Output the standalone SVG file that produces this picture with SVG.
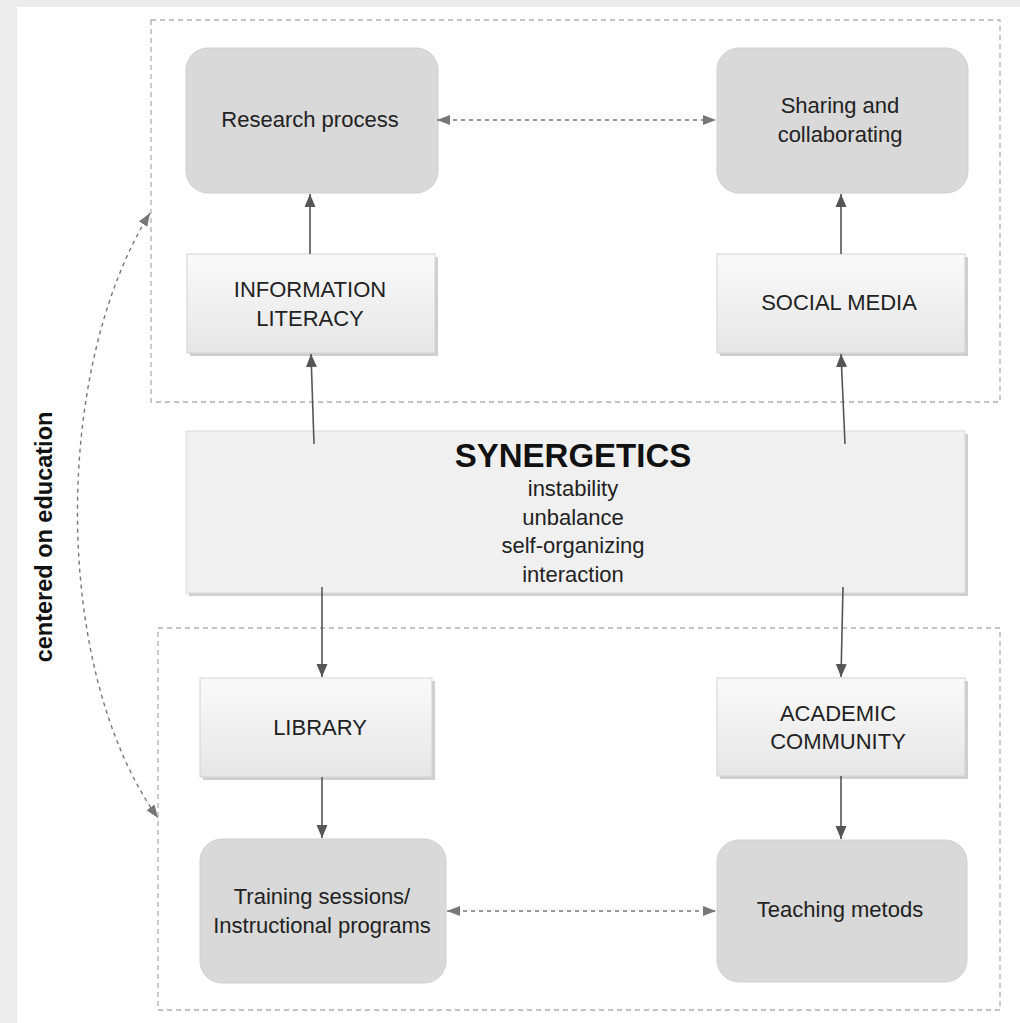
<svg xmlns="http://www.w3.org/2000/svg" width="1020" height="1023" viewBox="0 0 1020 1023">
  <defs>
    <linearGradient id="gSq" x1="0" y1="0" x2="0" y2="1">
      <stop offset="0" stop-color="#fafafa"/>
      <stop offset="1" stop-color="#e6e6e6"/>
    </linearGradient>
    <marker id="ah" markerUnits="userSpaceOnUse" markerWidth="14" markerHeight="12" refX="13" refY="6" orient="auto">
      <path d="M0,0.5 L13,6 L0,11.5 z" fill="#555"/>
    </marker>
    <marker id="ahd" markerUnits="userSpaceOnUse" markerWidth="14" markerHeight="12" refX="13" refY="6" orient="auto-start-reverse">
      <path d="M0,1 L13,6 L0,11 z" fill="#777"/>
    </marker>
    <style>
      .frame { fill: none; stroke: #b0b0b0; stroke-width: 1.3; stroke-dasharray: 5 4; }
      .round { fill: #d9d9d9; stroke: #cfcfcf; stroke-width: 1; }
      .sq { fill: url(#gSq); stroke: #d2d2d2; stroke-width: 1; }
      .shadow { fill: #cfcfcf; }
      .syn { fill: #f0f0f0; stroke: #dadada; stroke-width: 1; }
      .t { font-family: "Liberation Sans", Arial, sans-serif; font-size: 22px; fill: #222; text-anchor: middle; }
      .tb { font-family: "Liberation Sans", Arial, sans-serif; font-weight: bold; fill: #111; text-anchor: middle; }
      .solid { fill: none; stroke: #555; stroke-width: 1.6; marker-end: url(#ah); }
      .dash { fill: none; stroke: #777; stroke-width: 1.4; stroke-dasharray: 4 4; marker-start: url(#ahd); marker-end: url(#ahd); }
    </style>
  </defs>

  <!-- background frame -->
  <rect x="0" y="0" width="1020" height="1023" fill="#ececec"/>
  <rect x="17" y="7" width="1003" height="1016" fill="#ffffff"/>

  <!-- dashed grouping frames -->
  <g id="frames">
    <rect class="frame" x="151" y="20" width="849" height="382"/>
    <rect class="frame" x="158" y="628" width="842" height="382"/>
  </g>

  <g id="research">
    <rect class="round" x="186" y="48" width="252" height="145" rx="22"/>
    <text class="t" x="310" y="127">Research process</text>
  </g>
  <g id="sharing">
    <rect class="round" x="717" y="48" width="251" height="145" rx="22"/>
    <text class="t" x="840" y="113">Sharing and</text>
    <text class="t" x="840" y="142">collaborating</text>
  </g>
  <g id="infolit">
    <rect class="shadow" x="190" y="257" width="248" height="99"/>
    <rect class="sq" x="187" y="254" width="248" height="99"/>
    <text class="t" x="310" y="297">INFORMATION</text>
    <text class="t" x="310" y="326">LITERACY</text>
  </g>
  <g id="socialmedia">
    <rect class="shadow" x="720" y="257" width="248" height="99"/>
    <rect class="sq" x="717" y="254" width="248" height="99"/>
    <text class="t" x="839" y="310">SOCIAL MEDIA</text>
  </g>
  <g id="synergetics">
    <rect class="shadow" x="189" y="434" width="779" height="162"/>
    <rect class="syn" x="186" y="431" width="779" height="162"/>
    <text class="tb" x="573" y="467" font-size="33">SYNERGETICS</text>
    <text class="t" x="573" y="496">instability</text>
    <text class="t" x="573" y="525">unbalance</text>
    <text class="t" x="573" y="553">self-organizing</text>
    <text class="t" x="573" y="582">interaction</text>
  </g>
  <g id="library">
    <rect class="shadow" x="203" y="681" width="232" height="99"/>
    <rect class="sq" x="200" y="678" width="232" height="99"/>
    <text class="t" x="320" y="735">LIBRARY</text>
  </g>
  <g id="academic">
    <rect class="shadow" x="720" y="681" width="248" height="98"/>
    <rect class="sq" x="717" y="678" width="248" height="98"/>
    <text class="t" x="838" y="721">ACADEMIC</text>
    <text class="t" x="838" y="749">COMMUNITY</text>
  </g>
  <g id="training">
    <rect class="round" x="200" y="839" width="246" height="144" rx="22"/>
    <text class="t" x="322" y="904">Training sessions/</text>
    <text class="t" x="322" y="933">Instructional programs</text>
  </g>
  <g id="teaching">
    <rect class="round" x="717" y="840" width="250" height="142" rx="22"/>
    <text class="t" x="840" y="917">Teaching metods</text>
  </g>

  <g id="label-education">
    <text class="tb" font-size="23.5" transform="translate(52,537) rotate(-90)" x="0" y="0">centered on education</text>
  </g>

  <g id="connectors">
    <path class="dash" d="M437,120 L716,120"/>
    <path class="dash" d="M447,911 L716,911"/>
    <path class="dash" d="M150,213 C52,370 52,670 158,818"/>
    <path class="solid" d="M310,254 L310,194"/>
    <path class="solid" d="M841,254 L841,194"/>
    <path class="solid" d="M314,444 L311,354"/>
    <path class="solid" d="M845,444 L841,354"/>
    <path class="solid" d="M322,587 L322,677"/>
    <path class="solid" d="M843,587 L841,677"/>
    <path class="solid" d="M322,777 L322,838"/>
    <path class="solid" d="M841,776 L841,839"/>
  </g>
</svg>
